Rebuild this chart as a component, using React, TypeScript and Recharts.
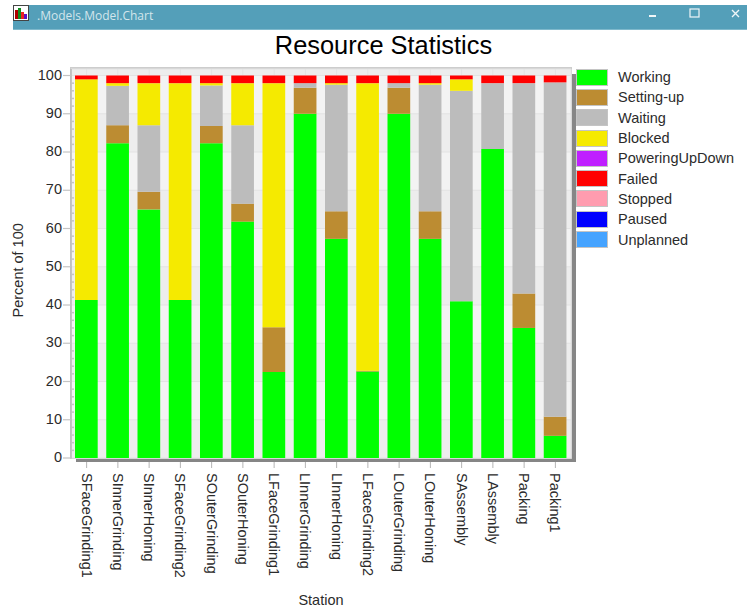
import React from "react";
import { BarChart, Bar, XAxis, YAxis, CartesianGrid, Legend } from "recharts";

const stations = ["SFaceGrinding1","SInnerGrinding","SInnerHoning","SFaceGrinding2","SOuterGrinding","SOuterHoning","LFaceGrinding1","LInnerGrinding","LInnerHoning","LFaceGrinding2","LOuterGrinding","LOuterHoning","SAssembly","LAssembly","Packing","Packing1"];
const working = [41.3,82.3,65,41.3,82.3,61.8,22.5,90,57.3,22.6,90,57.3,41,80.8,34,5.8];
const settingUp = [0,4.7,4.6,0,4.5,4.7,11.7,6.8,7.2,0.2,6.8,7.2,0,0,9,5];
const waiting = [0,10.3,17.4,0,10.6,20.5,0,1.2,33.1,0,1.2,33.1,55,17.2,55,87.4];
const blocked = [57.7,0.7,11,56.7,0.6,11,63.8,0,0.4,75.2,0,0.4,3,0,0,0];
const poweringUpDown = new Array(16).fill(0);
const failed = [1,2,2,2,2,2,2,2,2,2,2,2,1,2,2,1.8];
const stopped = new Array(16).fill(0);
const paused = new Array(16).fill(0);
const unplanned = new Array(16).fill(0);
const yTicks = [0,2,4,6,8,10,12,14,16,18,20,22,24,26,28,30,32,34,36,38,40,42,44,46,48,50,52,54,56,58,60,62,64,66,68,70,72,74,76,78,80,82,84,86,88,90,92,94,96,98,100];
const yMax = 101.7;
const gridValues = [0,10,20,30,40,50,60,70,80,90,100,yMax];

const seriesDefs: [string, number[], string][] = [
  ["Working", working, "#00ff00"],
  ["Setting-up", settingUp, "#bc8c32"],
  ["Waiting", waiting, "#bcbcbc"],
  ["Blocked", blocked, "#f5ea00"],
  ["PoweringUpDown", poweringUpDown, "#bf1fff"],
  ["Failed", failed, "#ff0000"],
  ["Stopped", stopped, "#ff9caf"],
  ["Paused", paused, "#0000ff"],
  ["Unplanned", unplanned, "#45a3ff"],
];
const data = stations.map((name, i) => {
  const row: Record<string, number | string> = { name };
  seriesDefs.forEach(([k, arr]) => { row[k] = arr[i]; });
  return row;
});

const FONT = "'Liberation Sans', Arial, sans-serif";
const TEXT = "#2b2b2b";
const FS = 14.5;

const YTick = (p: any) => {
  const v = p.payload.value;
  const y = p.y;
  if (v % 10 !== 0) return <line x1={71} x2={74} y1={y} y2={y} stroke="#c4c4c4" strokeWidth={1.5} />;
  return (
    <g>
      <line x1={63} x2={72} y1={y} y2={y} stroke="#c4c4c4" strokeWidth={1.2} />
      <text x={62} y={y - 1} textAnchor="end" dominantBaseline="central" fontSize={FS} fontFamily={FONT} fill={TEXT}>{v}</text>
    </g>
  );
};

const XTick = (p: any) => {
  const x = p.x;
  return (
    <g>
      <line x1={x} x2={x} y1={462} y2={468} stroke="#b4b4b4" strokeWidth={1} />
      <text transform={`rotate(90 ${x} 473)`} x={x} y={473} textAnchor="start" dominantBaseline="central" fontSize={FS} fontFamily={FONT} fill={TEXT}>{p.payload.value}</text>
    </g>
  );
};

const LegendBox = (p: any) => (
  <div style={{ fontFamily: FONT, fontSize: FS, color: TEXT }}>
    {(p.payload || []).map((e: any) => (
      <div key={e.value} style={{ display: "flex", alignItems: "center", height: 20.3 }}>
        <div style={{ width: 32, height: 17, boxSizing: "border-box", background: e.color, border: "1px solid #c4c4c4", marginRight: 10 }} />
        <span>{e.value}</span>
      </div>
    ))}
  </div>
);

export default function App() {
  return (
    <div style={{ position: "absolute", left: 0, top: 0, width: 747, height: 610, background: "#fff", overflow: "hidden", fontFamily: FONT }}>
      <div style={{ position: "absolute", left: 13, top: 5, width: 734, height: 24, background: "#549fb9", borderBottom: "1px solid #7fb9cc" }} />
      <svg style={{ position: "absolute", left: 13, top: 5 }} width={18} height={18}>
        <rect x={0.5} y={0.5} width={15} height={15} fill="#fff" stroke="#444" />
        <rect x={2} y={5} width={3} height={9} fill="#b00000" />
        <rect x={5} y={3} width={3} height={11} fill="#109020" />
        <rect x={8} y={7} width={3} height={7} fill="#ee2222" />
        <rect x={11} y={9} width={3} height={5} fill="#6010c0" />
      </svg>
      <div style={{ position: "absolute", left: 37, top: 8, fontSize: 12, color: "#d3e6ec", fontFamily: "'Open Sans', sans-serif", lineHeight: "15px" }}>.Models.Model.Chart</div>
      <svg style={{ position: "absolute", left: 640, top: 5 }} width={107} height={24}>
        <rect x={9} y={10} width={7} height={2} fill="#f0f6f8" />
        <rect x={50} y={4} width={9} height={8} fill="none" stroke="#f0f6f8" strokeWidth={1.2} />
        <path d="M92 5 L99 12 M99 5 L92 12" stroke="#f0f6f8" strokeWidth={1.4} />
      </svg>
      <div style={{ position: "absolute", left: 0, width: 767, top: 30, textAlign: "center", fontSize: 25.4, lineHeight: "30px", color: "#000" }}>Resource Statistics</div>
      <div style={{ position: "absolute", left: 76, top: 74, width: 500, height: 388, background: "#868686" }} />
      <div style={{ position: "absolute", left: 70, top: 67, width: 500, height: 389, borderStyle: "solid", borderColor: "#cdcdcd", borderWidth: "2px 1px 1px 1px", background: "#f3f3f3" }} />
      <div style={{ position: "absolute", left: 0, top: 0 }}>
        <BarChart width={747} height={610} data={data} margin={{ top: 69, right: 5, bottom: 0, left: 0 }} barSize={22.7}>
          <CartesianGrid
            horizontalValues={gridValues}
            horizontalFill={["#ededed", "#f3f3f3"]}
            stroke="#e3e3e3"
            syncWithTicks={false}
          />
          <XAxis dataKey="name" interval={0} height={152} tickLine={false} axisLine={false} tick={<XTick />} label={{ value: "Station", position: "insideBottom", offset: 5, fontSize: FS, fontFamily: FONT, fill: TEXT }} />
          <YAxis type="number" domain={[0, yMax]} ticks={yTicks} interval={0} width={71} tickLine={false} axisLine={{ stroke: "#b8b8b8", strokeWidth: 1.5 }} tick={<YTick />} label={{ value: "Percent of 100", angle: -90, position: "insideLeft", offset: 18, dy: 54, fontSize: FS, fontFamily: FONT, fill: TEXT }} />
          <Legend layout="vertical" align="right" verticalAlign="top" itemSorter={null} content={<LegendBox />} wrapperStyle={{ position: "absolute", left: 576, top: 67, width: 171 }} />
          {seriesDefs.map(([k, , c]) => (
            <Bar key={k} dataKey={k} stackId="s" fill={c} isAnimationActive={false} />
          ))}
        </BarChart>
      </div>
    </div>
  );
}
